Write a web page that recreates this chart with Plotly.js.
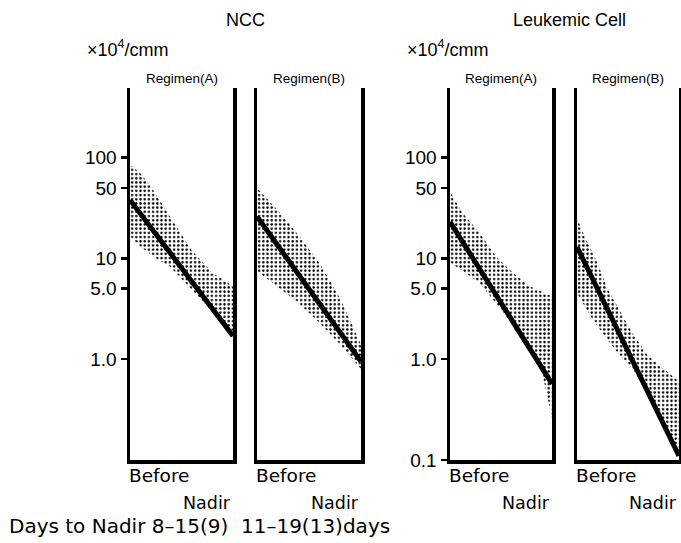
<!DOCTYPE html>
<html>
<head>
<meta charset="utf-8">
<script src="https://cdn.plot.ly/plotly-3.0.1.min.js"></script>
<style>html,body{margin:0;padding:0;background:#fff;}#chart{width:681px;height:543px;}</style>
</head>
<body>
<div id="chart"></div>
<script>
// ---------- data ----------
const groupTitles = ['NCC', 'Leukemic Cell'];
const unitLabel = '×10<sup>4</sup>/cmm';
const regimens = ['Regimen(A)', 'Regimen(B)', 'Regimen(A)', 'Regimen(B)'];
const stages = ['Before', 'Nadir'];
const daysNote = 'Days to Nadir 8–15(9)  11–19(13)days';

const nccTickVals = [100, 50, 10, 5, 1];
const nccTickText = ['100', '50', '10', '5.0', '1.0'];
const leukTickVals = [100, 50, 10, 5, 1, 0.1];
const leukTickText = ['100', '50', '10', '5.0', '1.0', '0.1'];

// mean lines: value before, value at nadir
const nccA_line = [38, 1.7];
const nccB_line = [26, 0.95];
const leukA_line = [23, 0.57];
const leukB_line = [13, 0.11];

// stippled ranges: position along Before(0) -> Nadir(1), upper and lower values
const nccA_upX = [0, 0.1, 0.2, 0.3, 0.4, 0.5, 0.6, 0.8, 1.0];
const nccA_up  = [85, 70, 52, 36, 25, 17, 12, 7.2, 5.3];
const nccA_loX = [0, 0.1, 0.22, 0.38, 0.54, 0.74, 0.88, 1.0];
const nccA_lo  = [16.6, 13.2, 10.5, 8.4, 5.7, 3.4, 2.4, 1.7];

const nccB_upX = [0, 0.2, 0.4, 0.6, 0.8, 1.0];
const nccB_up  = [50, 30, 17, 9, 4, 1.4];
const nccB_loX = [0, 0.2, 0.4, 0.6, 0.8, 1.0];
const nccB_lo  = [7.5, 5.2, 3.6, 2.3, 1.4, 0.8];

const leukA_upX = [0, 0.12, 0.29, 0.45, 0.61, 0.78, 1.0];
const leukA_up  = [46, 28.5, 18, 10.5, 7.3, 5.3, 4.2];
const leukA_loX = [0, 0.15, 0.29, 0.42, 0.55, 0.75, 0.9, 0.95, 1.0];
const leukA_lo  = [9.1, 7.2, 5.7, 3.9, 2.7, 1.3, 0.75, 0.45, 0.25];

const leukB_upX = [0, 0.08, 0.18, 0.3, 0.53, 0.69, 0.85, 1.0];
const leukB_up  = [25, 16, 10, 5, 1.9, 1.1, 0.8, 0.6];
const leukB_loX = [0, 0.15, 0.3, 0.45, 0.55, 0.7, 0.85, 1.0];
const leukB_lo  = [4.5, 2.5, 1.55, 1.0, 0.8, 0.42, 0.22, 0.11];

// ---------- build ----------
const W = 681, H = 543;
const panels = [
  {line: nccA_line, upX: nccA_upX, up: nccA_up, loX: nccA_loX, lo: nccA_lo, px: [130, 233]},
  {line: nccB_line, upX: nccB_upX, up: nccB_up, loX: nccB_loX, lo: nccB_lo, px: [257, 361]},
  {line: leukA_line, upX: leukA_upX, up: leukA_up, loX: leukA_loX, lo: leukA_lo, px: [450, 552]},
  {line: leukB_line, upX: leukB_upX, up: leukB_up, loX: leukB_loX, lo: leukB_lo, px: [577, 679]}
];
const yDom = [1 - 460 / H, 1 - 88 / H];
const yRange = [-1.0, 2.69];

const traces = [];
const layout = {
  width: W, height: H,
  margin: {l: 0, r: 0, t: 0, b: 0},
  paper_bgcolor: '#fff', plot_bgcolor: 'rgba(0,0,0,0)',
  showlegend: false,
  font: {family: 'Liberation Sans, Arial, sans-serif', color: '#000'},
  annotations: []
};

panels.forEach((p, i) => {
  const n = i === 0 ? '' : String(i + 1);
  const xa = 'x' + n, ya = 'y' + n;
  const bandX = p.upX.concat(p.loX.slice().reverse());
  const bandY = p.up.concat(p.lo.slice().reverse());
  traces.push({
    type: 'scatter', mode: 'lines', x: bandX, y: bandY, xaxis: xa, yaxis: ya,
    fill: 'toself', fillcolor: 'rgba(255,255,255,0)',
    fillpattern: {shape: '.', fgcolor: '#000', bgcolor: 'rgba(255,255,255,0)', size: 4.2, solidity: 0.26},
    line: {width: 0, color: 'rgba(0,0,0,0)'}, hoverinfo: 'skip'
  });
  traces.push({
    type: 'scatter', mode: 'lines', x: [0, 1], y: p.line, xaxis: xa, yaxis: ya,
    line: {width: 5, color: '#000'}, hoverinfo: 'skip'
  });
  const isLabeled = (i === 0 || i === 2);
  layout['xaxis' + n] = {
    domain: [p.px[0] / W, p.px[1] / W], range: [0, 1], anchor: ya,
    showline: true, linewidth: 3.5, linecolor: '#000', mirror: false,
    showgrid: false, zeroline: false, ticks: '', showticklabels: false, tickvals: [], fixedrange: true
  };
  layout['yaxis' + n] = {
    domain: yDom, type: 'log', range: yRange, anchor: xa,
    showline: true, linewidth: 3.5, linecolor: '#000', mirror: true,
    showgrid: false, zeroline: false, fixedrange: true,
    ticks: isLabeled ? 'outside' : '', ticklen: 6, tickwidth: 2.5, tickcolor: '#000',
    tickvals: i === 2 ? leukTickVals : (i === 0 ? nccTickVals : []),
    ticktext: i === 2 ? leukTickText : (i === 0 ? nccTickText : []),
    showticklabels: isLabeled,
    tickfont: {family: 'Liberation Sans, Arial, sans-serif', size: 19, color: '#000'}
  };
  layout.annotations.push({
    xref: xa, yref: 'paper', x: 0.5, y: 1 - 79 / H, text: regimens[i], showarrow: false,
    xanchor: 'center', yanchor: 'middle',
    font: {family: 'Liberation Sans, Arial, sans-serif', size: 13.5, color: '#000'}
  });
  layout.annotations.push({
    xref: xa, yref: 'paper', x: 0, y: 1 - 475 / H, text: stages[0], showarrow: false,
    xanchor: 'left', yanchor: 'middle', xshift: -3,
    font: {family: 'DejaVu Sans, sans-serif', size: 18.5, color: '#000'}
  });
  layout.annotations.push({
    xref: xa, yref: 'paper', x: 1, y: 1 - 503 / H, text: stages[1], showarrow: false,
    xanchor: 'right', yanchor: 'middle', xshift: 0,
    font: {family: 'DejaVu Sans, sans-serif', size: 17.5, color: '#000'}
  });
});

// group titles and units
[[246, 85], [569, 405]].forEach((pos, g) => {
  layout.annotations.push({
    xref: 'paper', yref: 'paper', x: pos[0] / W, y: 1 - 20 / H, text: groupTitles[g], showarrow: false,
    xanchor: 'center', yanchor: 'middle',
    font: {family: 'Liberation Sans, Arial, sans-serif', size: 18, color: '#000'}
  });
  layout.annotations.push({
    xref: 'paper', yref: 'paper', x: pos[1] / W, y: 1 - 48 / H, text: unitLabel, showarrow: false,
    xanchor: 'left', yanchor: 'middle',
    font: {family: 'Liberation Sans, Arial, sans-serif', size: 18, color: '#000'}
  });
});
layout.annotations.push({
  xref: 'paper', yref: 'paper', x: 7 / W, y: 1 - 526 / H, text: daysNote, showarrow: false,
  xanchor: 'left', yanchor: 'middle',
  font: {family: 'DejaVu Sans, sans-serif', size: 20, color: '#000'}
});

Plotly.newPlot('chart', traces, layout, {staticPlot: true, displayModeBar: false});
</script>
</body>
</html>
